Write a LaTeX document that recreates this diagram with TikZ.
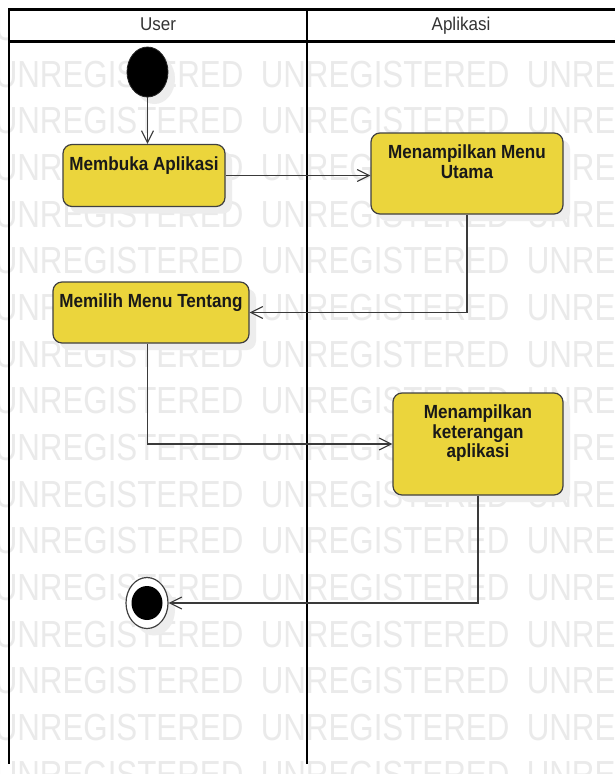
\documentclass[tikz,border=0pt]{standalone}
\usepackage{fontspec}
\setmainfont{Liberation Sans}
\newfontfamily\wmfont[FakeStretch=0.83]{Liberation Sans}
\newfontfamily\lanefont[FakeStretch=0.92]{Liberation Sans}
\newfontfamily\actfont[FakeStretch=0.9]{Liberation Sans}
\usetikzlibrary{arrows.meta,shadows,shapes.geometric}

\definecolor{actfill}{RGB}{235,213,60}
\definecolor{actline}{RGB}{64,64,64}
\definecolor{flowline}{RGB}{58,58,58}
\definecolor{wmgray}{RGB}{234,234,234}
\definecolor{shadowgray}{RGB}{237,237,237}

% activity label: fixed-size box, text hung from the top
\newcommand\acttext[3]{\parbox[c][#2][t]{#1}{\centering\rule{0pt}{25.5pt}#3}}

\tikzset{
  wm/.style={font=\wmfont\fontsize{37.7pt}{40pt}\selectfont, text=wmgray, inner sep=0pt, anchor=base west},
  lanehead/.style={font=\lanefont\fontsize{18.5pt}{20pt}\selectfont, text=black!80, inner sep=0pt, anchor=base},
  laneline/.style={line width=2.5pt, black},
  softshadow/.style={general shadow={fill=shadowgray, draw=none, shadow xshift=7pt, shadow yshift=-7pt}},
  actbox/.style={rectangle, rounded corners=9pt, draw=actline, line width=1.2pt, fill=actfill,
    inner sep=0pt, text=black!90, softshadow,
    font=\actfont\bfseries\fontsize{19pt}{19.5pt}\selectfont},
  startnode/.style={ellipse, fill=black, draw=black!85, line width=0.8pt, inner sep=0pt,
    minimum width=41pt, minimum height=50pt, softshadow},
  endring/.style={ellipse, fill=white, draw=actline, line width=1.2pt, inner sep=0pt,
    minimum width=42pt, minimum height=51pt, softshadow},
  endcore/.style={ellipse, fill=black, inner sep=0pt, minimum width=31pt, minimum height=34pt},
  flow/.style={draw=flowline, line width=1.1pt, -{Straight Barb[length=12pt,width=12pt,line width=1.1pt]}},
}

\begin{document}
\begin{tikzpicture}[x=1pt,y=-1pt]
\useasboundingbox (0,0) rectangle (614,774);
\fill[white] (0,0) rectangle (614,774);

% background watermark rows
\foreach \r in {-1,...,15}{
  \foreach \c in {0,1,2}{
    \node[wm] at ({-5.4+266*\c},{87+46.67*\r}) {UNREGISTERED};
  }
}

% swimlane header
\fill[white] (9,9.5) rectangle (614,41.7);
\draw[laneline] (9,9.5) -- (616,9.5);
\draw[laneline] (9,41.7) -- (616,41.7);
\draw[laneline] (9,8.3) -- (9,764);
\draw[laneline] (307,8.3) -- (307,764);
\node[lanehead] (userhead) at (158,30.7) {User};
\node[lanehead] (apphead) at (461,30.7) {Aplikasi};

% activities
\node[startnode] (start) at (147.5,72) {};
\node[actbox] (buka) at (144,175.5) {\acttext{162pt}{62pt}{Membuka Aplikasi}};
\node[actbox] (tampil) at (467,173.5) {\acttext{192pt}{81pt}{Menampilkan Menu\\Utama}};
\node[actbox] (pilih) at (151,312.5) {\acttext{196pt}{61pt}{Memilih Menu Tentang}};
\node[actbox] (info) at (478,444) {\acttext{170pt}{102pt}{Menampilkan\\keterangan\\aplikasi}};
\node[endring] (end) at (147,603) {};
\node[endcore] (endin) at (end) {};

% control flow
\draw[flow] (start.south) -- (start.south |- buka.north);
\draw[flow] (buka.east) -- (buka.east -| tampil.west);
\draw[flow] (tampil.south) |- (pilih.east);
\draw[flow] (pilih.south -| start) |- (info.west);
\draw[flow] (info.south) |- (end.east);
\end{tikzpicture}
\end{document}
